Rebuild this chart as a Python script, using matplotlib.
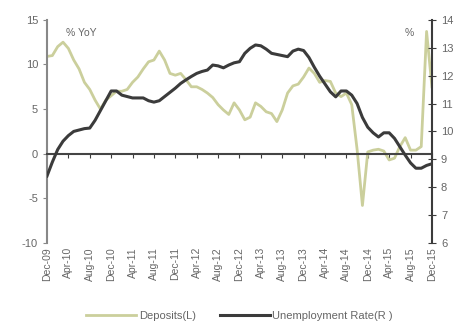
import matplotlib
matplotlib.use('Agg')
import matplotlib.pyplot as plt
import numpy as np

# Datos mensuales dic-09 .. dic-15
deposits = [10.9, 11.0, 12.0, 12.5, 11.8, 10.5, 9.5, 8.0, 7.2, 6.0,
            5.0, 6.0, 6.5, 7.0, 7.0, 7.2, 8.0, 8.6, 9.5, 10.3,
            10.5, 11.5, 10.5, 9.0, 8.8, 9.0, 8.3, 7.5, 7.5, 7.2,
            6.8, 6.3, 5.5, 4.9, 4.4, 5.7, 4.9, 3.8, 4.1, 5.7,
            5.3, 4.7, 4.5, 3.6, 4.9, 6.8, 7.6, 7.8, 8.6, 9.6,
            9.0, 8.0, 8.2, 8.1, 6.8, 6.4, 6.8, 5.5, 0.5, -5.8,
            0.2, 0.4, 0.5, 0.3, -0.7, -0.5, 0.8, 1.8, 0.4, 0.4,
            0.8, 13.7, 7.5]
unemployment = [8.4, 8.9, 9.35, 9.65, 9.85, 10.0, 10.05, 10.1, 10.12, 10.4,
                10.75, 11.1, 11.45, 11.45, 11.3, 11.25, 11.2, 11.2, 11.2, 11.1,
                11.05, 11.1, 11.25, 11.4, 11.55, 11.72, 11.85, 11.97, 12.08, 12.15,
                12.2, 12.38, 12.35, 12.28, 12.38, 12.46, 12.5, 12.8, 12.98, 13.1,
                13.07, 12.95, 12.8, 12.76, 12.72, 12.68, 12.88, 12.95, 12.9, 12.65,
                12.3, 11.98, 11.7, 11.42, 11.24, 11.45, 11.45, 11.3, 11.0, 10.5,
                10.15, 9.95, 9.8, 9.95, 9.95, 9.75, 9.45, 9.15, 8.87, 8.68,
                8.68, 8.78, 8.84]
tick_labels = ['Dec-09', 'Apr-10', 'Aug-10', 'Dec-10', 'Apr-11', 'Aug-11', 'Dec-11',
               'Apr-12', 'Aug-12', 'Dec-12', 'Apr-13', 'Aug-13', 'Dec-13', 'Apr-14',
               'Aug-14', 'Dec-14', 'Apr-15', 'Aug-15', 'Dec-15']

months = np.arange(len(deposits))
tick_pos = np.arange(0, len(deposits), 4)

plt.rcParams['font.family'] = ['Liberation Sans', 'DejaVu Sans']
plt.rcParams['axes.unicode_minus'] = False

fig = plt.figure(figsize=(4.7, 3.31), dpi=100)
ax = fig.add_axes([0.1, 0.266, 0.819, 0.674])
ax2 = ax.twinx()

green = '#cbcf9c'
dark = '#3b3b3b'
grey = '#666666'

l1, = ax.plot(months, deposits, color=green, linewidth=2)
l2, = ax2.plot(months, unemployment, color=dark, linewidth=2.2)

ax.set_xlim(0, len(deposits) - 1)
ax.set_ylim(-10, 15)
ax.set_yticks([-10, -5, 0, 5, 10, 15])
ax2.set_ylim(6, 14)
ax2.set_yticks(range(6, 15))

# Eje x en el cero
ax.spines['bottom'].set_position(('data', 0))
ax.spines['bottom'].set_color('#444444')
ax.spines['bottom'].set_linewidth(1.5)
ax.spines['top'].set_visible(False)
ax.spines['right'].set_visible(False)
ax.spines['left'].set_color('#888888')
ax.spines['left'].set_linewidth(1.5)
ax.set_xticks(tick_pos)
ax.tick_params(axis='x', direction='out', length=3, color=dark, labelbottom=False)
ax.tick_params(axis='y', direction='out', length=3, color='#888888', labelsize=8, labelcolor=grey)

ax2.spines['top'].set_visible(False)
ax2.spines['bottom'].set_visible(False)
ax2.spines['left'].set_visible(False)
ax2.spines['right'].set_color(dark)
ax2.spines['right'].set_linewidth(1.5)
ax2.tick_params(axis='y', direction='inout', length=6, color=dark, labelsize=8, labelcolor=grey)

# Etiquetas de fecha abajo
sec = ax.secondary_xaxis('bottom')
sec.set_xticks(tick_pos)
sec.set_xticklabels(tick_labels, rotation=90, fontsize=7.5, color=grey)
sec.tick_params(length=0, pad=3)
sec.spines['bottom'].set_visible(False)

ax.text(0.05, 0.965, '% YoY', transform=ax.transAxes, fontsize=7.5, color=grey, va='top')
ax.text(0.93, 0.965, '%', transform=ax.transAxes, fontsize=7.5, color=grey, va='top')

fig.legend([l1, l2], ['Deposits(L)', 'Unemployment Rate(R )'], loc='lower center',
           bbox_to_anchor=(0.51, 0.0), ncol=2, frameon=False, fontsize=8,
           handlelength=4.5, handletextpad=0.2, columnspacing=2.2, labelcolor=grey)

plt.savefig('out.png', dpi=100)
